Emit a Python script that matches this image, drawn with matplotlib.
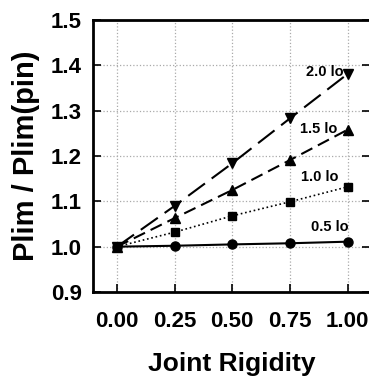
import numpy as np
import matplotlib.pyplot as plt

# joint rigidity vs normalized limit load for several lengths
rigidity = [0.00, 0.25, 0.50, 0.75, 1.00]
ratio_05 = [1.000, 1.002, 1.005, 1.0075, 1.011]
ratio_10 = [1.000, 1.032, 1.068, 1.099, 1.132]
ratio_15 = [1.000, 1.063, 1.125, 1.191, 1.258]
ratio_20 = [1.000, 1.090, 1.184, 1.283, 1.381]
series_labels = ['0.5 lo', '1.0 lo', '1.5 lo', '2.0 lo']
xticks = [0.00, 0.25, 0.50, 0.75, 1.00]
yticks = [0.9, 1.0, 1.1, 1.2, 1.3, 1.4, 1.5]

plt.rcParams['font.family'] = ['Liberation Sans', 'DejaVu Sans']

fig = plt.figure(figsize=(3.69, 3.79), dpi=100)
ax = fig.add_axes([93 / 369, 1 - 292 / 379, (370 - 93) / 369, (292 - 20) / 379])

ax.plot(rigidity, ratio_05, '-', color='black', lw=1.5, marker='o', ms=6.5)
ax.plot(rigidity, ratio_10, ':', color='black', lw=1.2, marker='s', ms=6)
ax.plot(rigidity, ratio_15, color='black', lw=1.5, marker='^', ms=6.5, dashes=(6, 3))
ax.plot(rigidity, ratio_20, color='black', lw=1.5, marker='v', ms=6.5, dashes=(10, 4))

# labels next to the last point of each curve
lab_kw = dict(ha='right', va='center', fontsize=10.5, fontweight='semibold')
ax.text(1.005, 1.043, series_labels[0], **lab_kw)
ax.text(0.962, 1.153, series_labels[1], **lab_kw)
ax.text(0.955, 1.260, series_labels[2], **lab_kw)
ax.text(0.983, 1.386, series_labels[3], **lab_kw)

ax.set_xlim(-0.104, 1.097)
ax.set_ylim(0.9, 1.5)
ax.set_xticks(xticks)
ax.set_yticks(yticks)
ax.set_xticklabels([f'{v:.2f}' for v in xticks])
ax.set_yticklabels([f'{v:.1f}' for v in yticks])
ax.grid(True, ls=':', color='#aaaaaa', lw=0.9)

for s in ax.spines.values():
    s.set_linewidth(2)
ax.tick_params(direction='in', length=6, width=1.2, labelsize=16, right=True, top=False)
ax.tick_params(axis='x', pad=14)
ax.tick_params(axis='y', pad=8)
for lab in ax.get_xticklabels() + ax.get_yticklabels():
    lab.set_fontweight('bold')

ax.set_xlabel('Joint Rigidity', fontsize=19, fontweight='bold', labelpad=14)
ax.set_ylabel('Plim / Plim(pin)', fontsize=21, fontweight='bold', labelpad=8)

fig.savefig('out.png', dpi=100)
